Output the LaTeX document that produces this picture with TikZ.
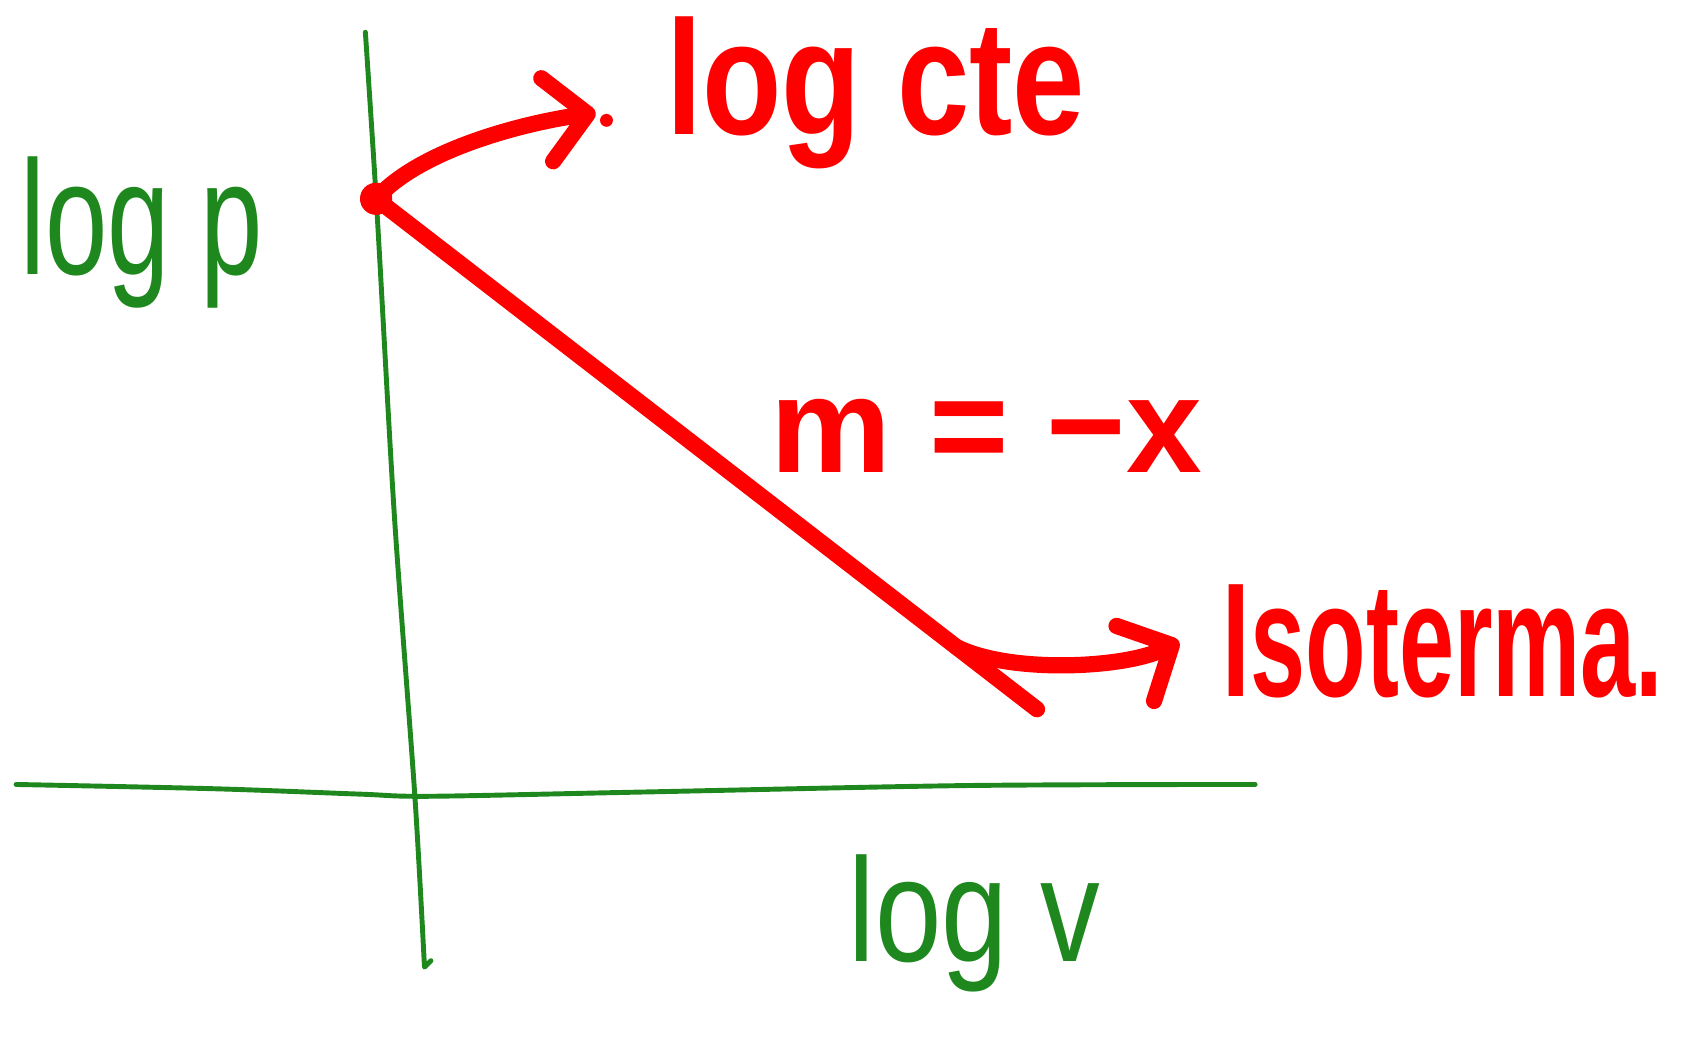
\documentclass[tikz,border=0pt]{standalone}
\usepackage{fontspec}
\setmainfont{Liberation Sans}
\usetikzlibrary{arrows.meta,calc}
\definecolor{penred}{RGB}{255,0,0}
\definecolor{pengreen}{RGB}{30,135,30}
\begin{document}
\begin{tikzpicture}[x=0.01cm,y=-0.01cm,
  axis/.style={pengreen, line width=1.3pt, line cap=round, line join=round},
  stroke/.style={penred, line width=4.3pt, line cap=round, line join=round},
  tip/.style={-{Straight Barb[round,length=0.38cm,width=0.78cm]}},
  greenlbl/.style={text=pengreen, inner sep=0pt, anchor=base},
  redlbl/.style={text=penred, inner sep=0pt, anchor=base}]
  \useasboundingbox (0,0) rectangle (1568,967);
  % axes
  \draw[axis] plot[smooth] coordinates {(340,30) (351,200) (367,480) (386,740) (395,900)} -- (401,894);
  \draw[axis] plot[smooth] coordinates {(15,730) (200,734) (335,739) (400,741) (600,737) (900,731) (1168,730)};
  \node[greenlbl, font=\fontsize{43}{43}\selectfont] (logp) at (132,255) {\scalebox{0.69}[1]{log p}};
  \node[greenlbl, font=\fontsize{39}{39}\selectfont] (logv) at (907,895) {\scalebox{0.81}[1]{log v}};
  % labels
  \node[redlbl, font=\fontsize{43}{43}\selectfont\bfseries] (cte) at (815,125) {\scalebox{0.8}[1]{log cte}};
  \node[redlbl, font=\fontsize{36}{36}\selectfont\bfseries] (slope) at (918,440) {m = −x};
  \node[redlbl, font=\fontsize{43}{43}\selectfont\bfseries] (iso) at (1343,648) {\scalebox{0.61}[1]{Isoterma.}};
  % isotherm line
  \coordinate (P) at (350,185);
  \coordinate (E) at (965,660);
  \coordinate (B) at ($(P)!0.878!(E)$);
  \draw[stroke] (P) -- (E);
  \fill[penred] (P) circle (15);
  \draw[stroke, tip] (P) .. controls +(40,-45) and +(-70,10) .. ($(cte.base west)+(-65,-20)$);
  \fill[penred] ($(cte.base west)+(-55,-13)$) circle (6);
  \draw[stroke, tip] (B) .. controls +(50,25) and +(-50,25) .. ($(iso.base west)+(-40,-51)$);
\end{tikzpicture}
\end{document}
